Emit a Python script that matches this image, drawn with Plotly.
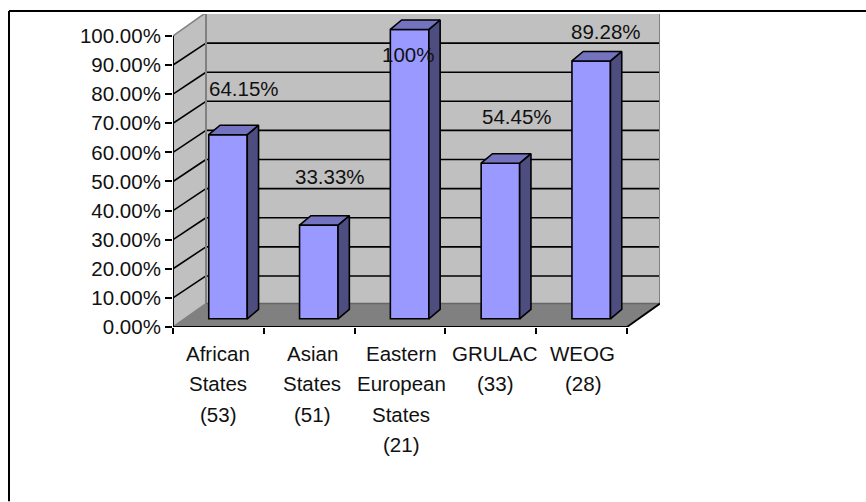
import plotly.graph_objects as go

# ---- data ----
categories = [["African", "States", "(53)"],
              ["Asian", "States", "(51)"],
              ["Eastern", "European", "States", "(21)"],
              ["GRULAC", "(33)"],
              ["WEOG", "(28)"]]
values = [64.15, 33.33, 100, 54.45, 89.28]
value_labels = ["64.15%", "33.33%", "100%", "54.45%", "89.28%"]
y_ticks = [0, 10, 20, 30, 40, 50, 60, 70, 80, 90, 100]
y_tick_labels = ["%.2f%%" % t for t in y_ticks]

# ---- geometry (pixels) ----
W, H = 866, 502
FX0, FX1 = 173.0, 627.0      # front axis left / right
FY0, FY100 = 327.5, 36.0     # front axis 0% / 100%
DEPTH_X, DEPTH_Y = 33.0, 23.5
GRID_DROP = 1.5              # back-wall gridlines sit slightly lower than the wall's top offset
BAR_Y0, BAR_Y100 = 323.5, 29.5
BAR_FOOT_Y = 319.3           # where the bars meet the floor
BAR_SHIFT = 9.6
BAR_WIDTH_PX = 38.5
BAR_DX_PX, BAR_DY_PX = 11.3, 9.5
label_dx = [16, 11, -2, 17, 15]
label_dy = [46, 49, -25, 47, 29]
cat_dx = [0, 3, 1, 4, 1]
LINE_TOP = 26.5
LINE_STEP = 30.3
FONT = dict(family="Liberation Sans, Arial, sans-serif", size=20.5, color="#111111")

n = len(values)
cat_w = (FX1 - FX0) / n
py = (FY0 - FY100) / 100.0
bpy = (BAR_Y0 - BAR_Y100) / 100.0
foot = (BAR_Y0 - BAR_FOOT_Y) / bpy
PL, PR, PT, PB = FX0, FX1 + DEPTH_X, FY100 - DEPTH_Y + 1.5, FY0

x_range = [-0.5, -0.5 + (PR - PL) / cat_w]
x2_range = [x_range[0] - BAR_SHIFT / cat_w, x_range[1] - BAR_SHIFT / cat_w]
y_range = [0, (PB - PT) / py]
y2_range = [(BAR_Y0 - PB) / bpy, (BAR_Y0 - PT) / bpy]

dx = DEPTH_X / cat_w
dy = DEPTH_Y / py
grid_dy = (DEPTH_Y - GRID_DROP) / py
x_l, x_r = -0.5, n - 0.5
bw = BAR_WIDTH_PX / cat_w
bdx = BAR_DX_PX / cat_w
bdy = BAR_DY_PX / bpy


def poly(xs, ys, fill, lc):
    path = "M " + " L ".join(f"{a},{b}" for a, b in zip(xs, ys)) + " Z"
    return dict(type="path", path=path, xref="x", yref="y", fillcolor=fill,
                line=dict(color=lc, width=0), layer="below")


def seg(x0, y0, x1, y1, color="#000000", width=1.6):
    return dict(type="line", x0=x0, y0=y0, x1=x1, y1=y1, xref="x", yref="y",
                line=dict(color=color, width=width), layer="below")


GRAY_WALL, GRAY_FLOOR, GRAY_EDGE = "#C0C0C0", "#808080", "#808080"
shapes = [
    poly([x_l + dx, x_r + dx, x_r + dx, x_l + dx], [dy, dy, 100 + dy, 100 + dy], GRAY_WALL, GRAY_WALL),
    poly([x_l, x_l + dx, x_l + dx, x_l], [0, dy, 100 + dy, 100], GRAY_WALL, GRAY_WALL),
    poly([x_l, x_r, x_r + dx, x_l + dx], [0, 0, dy, dy], GRAY_FLOOR, GRAY_FLOOR),
]
for t in y_ticks[1:-1]:
    shapes.append(seg(x_l, t, x_l + dx, t + grid_dy))
    shapes.append(seg(x_l + dx, t + grid_dy, x_r + dx, t + grid_dy))
shapes += [
    seg(x_l + dx, dy, x_l + dx, 100 + dy, GRAY_EDGE, 2),
    seg(x_r + dx, dy, x_r + dx, 100 + dy, GRAY_EDGE, 2),
    seg(x_l + dx, 100 + dy, x_r + dx, 100 + dy, GRAY_EDGE, 2),
    seg(x_l, 100, x_l + dx, 100 + dy, GRAY_EDGE, 1.6),
    seg(x_l + dx, dy, x_r + dx, dy, "#666666", 1.6),
    seg(x_l, 0, x_l + dx, dy, GRAY_EDGE, 1.6),
    seg(x_r, 0, x_r + dx, dy, "#000000", 1.8),
    seg(x_l, 0, x_r, 0, "#000000", 2),
    seg(x_l, 0, x_l, 100, "#000000", 2),
]
# outer frame: only the top and left edges show in the picture
shapes += [
    dict(type="line", xref="paper", yref="paper",
         x0=(9 - PL) / (PR - PL), x1=(W - PL) / (PR - PL),
         y0=(PB - 11) / (PB - PT), y1=(PB - 11) / (PB - PT),
         line=dict(color="#000000", width=2)),
    dict(type="line", xref="paper", yref="paper",
         x0=(9 - PL) / (PR - PL), x1=(9 - PL) / (PR - PL),
         y0=(PB - 11) / (PB - PT), y1=(PB - H) / (PB - PT),
         line=dict(color="#000000", width=2)),
]

positions = list(range(n))
fig = go.Figure()

side_x, side_y, top_x, top_y = [], [], [], []
for i, v in zip(positions, values):
    r, l = i + bw / 2, i - bw / 2
    side_x += [r, r + bdx, r + bdx, r, r, None]
    side_y += [foot, foot + bdy, v + bdy, v, foot, None]
    top_x += [l, r, r + bdx, l + bdx, l, None]
    top_y += [v, v, v + bdy, v + bdy, v, None]

fig.add_trace(go.Scatter(x=side_x, y=side_y, xaxis="x2", yaxis="y2", mode="lines", fill="toself",
                         fillcolor="#4D4D80", line=dict(color="#000000", width=1.6),
                         hoverinfo="skip", showlegend=False))
fig.add_trace(go.Scatter(x=top_x, y=top_y, xaxis="x2", yaxis="y2", mode="lines", fill="toself",
                         fillcolor="#7373BF", line=dict(color="#000000", width=1.6),
                         hoverinfo="skip", showlegend=False))
fig.add_trace(go.Bar(x=positions, y=[v - foot for v in values], base=foot, width=bw,
                     xaxis="x2", yaxis="y2",
                     marker=dict(color="#9999FF", line=dict(color="#000000", width=1.6)),
                     hovertext=[" ".join(c) for c in categories], showlegend=False))

annotations = []
for i, v, txt, ddx, ddy in zip(positions, values, value_labels, label_dx, label_dy):
    annotations.append(dict(x=i, y=v, xref="x2", yref="y2", text=txt, showarrow=False,
                            xshift=ddx, yshift=ddy, font=FONT, xanchor="center", yanchor="middle"))
for i, lines, sh in zip(positions, categories, cat_dx):
    for k, line in enumerate(lines):
        annotations.append(dict(x=i, y=0, xref="x", yref="y", text=line, showarrow=False,
                                xshift=sh, yshift=-(LINE_TOP + k * LINE_STEP), font=FONT,
                                xanchor="center", yanchor="middle"))

fig.update_layout(
    width=W, height=H, autosize=False,
    margin=dict(l=PL, r=W - PR, t=PT, b=H - PB, pad=0),
    paper_bgcolor="#FFFFFF", plot_bgcolor="rgba(0,0,0,0)",
    showlegend=False, shapes=shapes, annotations=annotations,
    xaxis=dict(range=x_range, tickmode="array", tickvals=[p - 0.5 for p in positions] + [n - 0.5],
               showticklabels=False, ticks="outside", ticklen=6, tickwidth=2, tickcolor="#000000",
               showgrid=False, zeroline=False, showline=False, fixedrange=True),
    yaxis=dict(range=y_range, tickmode="array", tickvals=y_ticks, ticktext=y_tick_labels,
               ticks="outside", ticklen=7, tickwidth=2, tickcolor="#000000", tickfont=FONT,
               showgrid=False, zeroline=False, showline=False, fixedrange=True),
    xaxis2=dict(range=x2_range, overlaying="x", visible=False, fixedrange=True),
    yaxis2=dict(range=y2_range, overlaying="y", visible=False, fixedrange=True),
)
fig.write_html("out.html", post_script="document.body.style.margin='0';",
               config=dict(displayModeBar=False))
